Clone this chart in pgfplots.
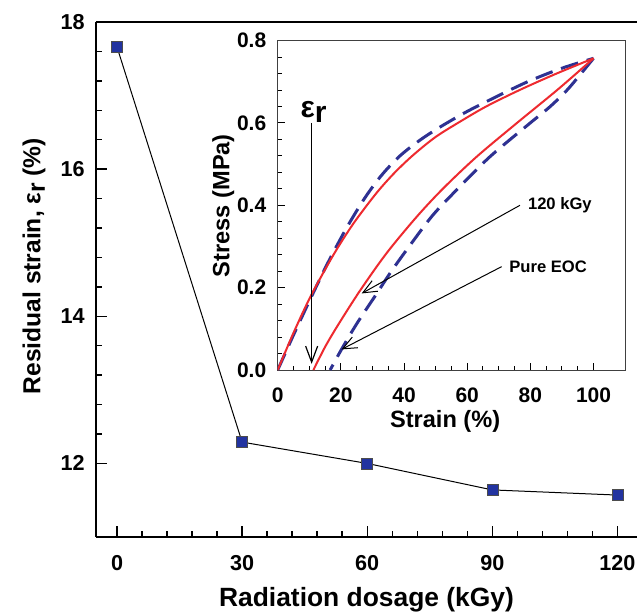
\documentclass[border=0pt]{standalone}
\usepackage{pgfplots}
\pgfplotsset{compat=1.18}
\usepackage{fontspec}
\setmainfont{Liberation Sans}
\usetikzlibrary{arrows.meta}

\definecolor{mkblue}{HTML}{2233A0}
\definecolor{dashblue}{HTML}{2E3192}
\definecolor{curvered}{HTML}{EE2A2F}

\begin{document}
\begin{tikzpicture}
	% picture frame: 1 px of the reference = 0.5pt
	\useasboundingbox (-48pt,-37.5pt) rectangle (270.5pt,268.5pt);

	% main plot
	\begin{axis}[
			scale only axis,
			width=270.5pt,
			height=257.5pt,
			xmin=-5.04, xmax=124.7,
			ymin=11, ymax=18,
			axis x line*=box,
			axis y line*=left,
			axis line style={-, line width=0.8pt},
			tick pos=left,
			tick align=inside,
			xtick={0,30,60,90,120},
			ytick={12,14,16,18},
			minor x tick num=4,
			minor y tick num=4,
			major tick length=5.5pt,
			minor tick length=3pt,
			every tick/.style={black, line width=0.7pt},
			/pgf/number format/assume math mode=true,
			tick label style={font=\bfseries\fontsize{10.8}{12}\selectfont},
			xticklabel style={anchor=center, yshift=-13pt},
			yticklabel style={anchor=east, xshift=-2.2pt},
			xlabel={Radiation dosage (kGy)},
			ylabel={Residual strain, ε\raisebox{-0.35ex}{r} (\%)},
			x label style={at={(axis description cs:0.5,-0.1223)}, anchor=center,
				font=\bfseries\fontsize{13.2}{15}\selectfont},
			y label style={at={(axis description cs:-0.1146,0.526)}, anchor=center,
				font=\bfseries\fontsize{12.3}{14}\selectfont},
		]

		\addplot[
			black,
			line width=0.5pt,
			mark=square*,
			mark size=2.75pt,
			mark options={fill=mkblue, draw=black!70, line width=0.3pt}
		] coordinates {
				(0,17.66)
				(30,12.29)
				(60,12.00)
				(90,11.64)
				(120,11.57)
			};
	\end{axis}

	% inset: stress-strain curves
	\begin{axis}[
			at={(90.85pt,83.5pt)},
			anchor=south west,
			scale only axis,
			width=173.7pt,
			height=164.7pt,
			xmin=0, xmax=110,
			ymin=0, ymax=0.8,
			axis background/.style={fill=white},
			axis line style={line width=0.5pt, black!75},
			tick pos=left,
			tick align=inside,
			xtick={0,20,40,60,80,100},
			ytick={0,0.2,0.4,0.6,0.8},
			minor x tick num=3,
			minor y tick num=4,
			major tick length=3.5pt,
			minor tick length=2pt,
			every tick/.style={black, line width=0.5pt},
			yticklabel={\pgfmathprintnumber[fixed,fixed zerofill,precision=1]{\tick}},
			/pgf/number format/assume math mode=true,
			tick label style={font=\bfseries\fontsize{10.5}{12}\selectfont},
			xticklabel style={anchor=center, yshift=-12.5pt},
			yticklabel style={anchor=east, xshift=-2.2pt},
			xlabel={Strain (\%)},
			ylabel={Stress (MPa)},
			label style={font=\bfseries\fontsize{11.8}{14}\selectfont},
			x label style={at={(axis description cs:0.482,-0.157)}, anchor=center},
			y label style={at={(axis description cs:-0.157,0.499)}, anchor=center},
		]

		% Pure EOC, loading and unloading
		\addplot[dashblue, line width=1.5pt, dash pattern=on 9pt off 4.5pt, smooth, tension=0.5] coordinates {
				(0,0) (5,0.085) (10.8,0.18) (16,0.262) (21.8,0.345) (27.6,0.418) (33,0.474)
				(38.7,0.52) (45,0.558) (51.4,0.59) (60,0.628) (71.4,0.672) (80,0.703)
				(90,0.733) (100,0.757)
			};
		\addplot[dashblue, line width=1.5pt, dash pattern=on 9pt off 4.5pt, smooth, tension=0.5] coordinates {
				(100,0.757) (92,0.683) (86,0.638) (79.8,0.599) (67.2,0.518) (56.6,0.437)
				(49,0.375) (41.9,0.303) (36,0.24) (31.3,0.185) (25,0.112) (20.2,0.05) (16.6,0)
			};

		% 120 kGy, loading and unloading
		\addplot[curvered, line width=1pt, smooth, tension=0.5] coordinates {
				(0,0) (5,0.09) (10.5,0.18) (17.6,0.279) (24,0.356) (31.3,0.43) (37,0.479)
				(42.9,0.522) (50,0.566) (57.7,0.603) (66,0.64) (76.6,0.68) (88,0.719) (100,0.757)
			};
		\addplot[curvered, line width=1pt, smooth, tension=0.5] coordinates {
				(100,0.757) (88.8,0.682) (75.6,0.599) (63,0.518) (52.4,0.441) (44,0.372)
				(34.5,0.284) (26,0.192) (19,0.108) (15,0.056) (11.3,0)
			};

		% annotations
		\draw[line width=0.6pt, -{Straight Barb[length=8pt,width=6pt,line width=0.6pt]}]
			(axis cs:10.75,0.60) -- (axis cs:10.75,0.015);
		\node[anchor=south, inner sep=1pt, font=\bfseries\fontsize{15}{16}\selectfont]
			at (axis cs:11.4,0.595) {ε\raisebox{-0.35ex}{r}};

		\draw[line width=0.5pt, -{Straight Barb[length=7pt,width=6pt,line width=0.5pt]}]
			(axis cs:76.7,0.40) -- (axis cs:26.6,0.186);
		\node[anchor=west, inner sep=1pt, font=\bfseries\fontsize{8.3}{10}\selectfont]
			at (axis cs:78.5,0.40) {120 kGy};

		\draw[line width=0.5pt, -{Straight Barb[length=7pt,width=6pt,line width=0.5pt]}]
			(axis cs:70.9,0.251) -- (axis cs:20.2,0.05);
		\node[anchor=west, inner sep=1pt, font=\bfseries\fontsize{8.3}{10}\selectfont]
			at (axis cs:72.6,0.251) {Pure EOC};
	\end{axis}
\end{tikzpicture}
\end{document}
